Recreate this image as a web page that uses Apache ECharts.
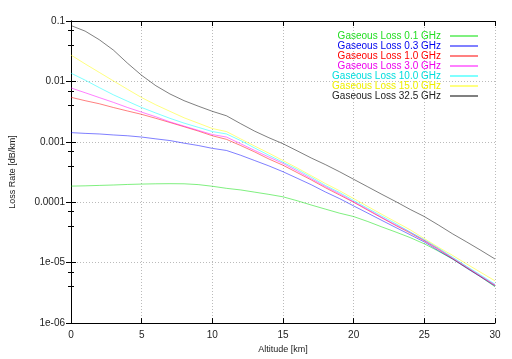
<!DOCTYPE html>
<html><head><meta charset="utf-8">
<script src="https://cdn.jsdelivr.net/npm/echarts@6/dist/echarts.min.js"></script>
<style>html,body{margin:0;padding:0;background:#fff}#c{width:512px;height:359px}</style>
</head><body><div id="c"></div>
<script>
const altitude = [0,1,2,3,4,5,6,7,8,9,10,11,12,13,14,15,16,17,18,19,20,21,22,23,24,25,26,27,28,29,30];
const seriesNames = ["Gaseous Loss 0.1 GHz","Gaseous Loss 0.3 GHz","Gaseous Loss 1.0 GHz","Gaseous Loss 3.0 GHz","Gaseous Loss 10.0 GHz","Gaseous Loss 15.0 GHz","Gaseous Loss 32.5 GHz"];
const loss01 = [1.85e-4,1.87e-4,1.9e-4,1.93e-4,1.97e-4,2.0e-4,2.02e-4,2.03e-4,2.02e-4,1.96e-4,1.84e-4,1.7e-4,1.6e-4,1.47e-4,1.35e-4,1.23e-4,1.06e-4,9.0e-5,7.7e-5,6.6e-5,5.8e-5,4.8e-5,3.9e-5,3.2e-5,2.6e-5,2.05e-5,1.55e-5,1.15e-5,8.2e-6,5.8e-6,4.0e-6];
const loss03 = [0.00142,0.00138,0.00135,0.0013,0.00126,0.0012,0.00112,0.00105,0.00095,0.00087,0.00078,0.00072,0.0006,0.00049,0.0004,0.00032,0.00025,0.000195,0.000148,0.000115,8.7e-5,6.6e-5,5.0e-5,3.8e-5,2.9e-5,2.2e-5,1.58e-5,1.15e-5,8.1e-6,5.8e-6,4.1e-6];
const loss10 = [0.00546,0.0048,0.00427,0.0037,0.00324,0.00285,0.00245,0.00209,0.00178,0.00151,0.00126,0.0011,0.00087,0.00068,0.00052,0.00041,0.00031,0.000234,0.000174,0.000132,0.0001,7.4e-5,5.5e-5,4.1e-5,3.1e-5,2.3e-5,1.66e-5,1.17e-5,8.3e-6,5.9e-6,4.2e-6];
const loss30 = [0.0078,0.0065,0.0054,0.0045,0.0037,0.0031,0.0026,0.00214,0.00182,0.00155,0.00132,0.0012,0.00093,0.00072,0.00056,0.00044,0.00033,0.000245,0.000182,0.000138,0.000102,7.6e-5,5.6e-5,4.2e-5,3.2e-5,2.35e-5,1.7e-5,1.2e-5,8.5e-6,6.0e-6,4.3e-6];
const loss100 = [0.0137,0.0105,0.0079,0.0060,0.0047,0.0037,0.0030,0.00245,0.00204,0.00174,0.00148,0.00135,0.00105,0.00079,0.0006,0.00046,0.00035,0.00026,0.00019,0.000145,0.000107,7.9e-5,5.9e-5,4.4e-5,3.2e-5,2.4e-5,1.74e-5,1.23e-5,8.7e-6,6.2e-6,4.4e-6];
const loss150 = [0.0273,0.0195,0.0141,0.0102,0.0074,0.0054,0.0041,0.0032,0.0025,0.00204,0.00166,0.00148,0.00112,0.00085,0.00065,0.00049,0.00037,0.000275,0.000204,0.000155,0.000115,8.5e-5,6.3e-5,4.7e-5,3.5e-5,2.5e-5,1.8e-5,1.32e-5,9.5e-6,6.9e-6,5.0e-6];
const loss325 = [0.084,0.068,0.049,0.033,0.020,0.0126,0.0085,0.0062,0.0048,0.0039,0.0032,0.0027,0.0020,0.0015,0.00117,0.00093,0.00071,0.00054,0.00042,0.00032,0.00024,0.00018,0.000135,0.000102,7.6e-5,5.8e-5,4.2e-5,3.0e-5,2.2e-5,1.6e-5,1.15e-5];
const yTickLabels = ["1e-06","1e-05","0.0001","0.001","0.01","0.1"];
const allSeries = [loss01,loss03,loss10,loss30,loss100,loss150,loss325];
const lineColors = ["#00e000","#0000ff","#ff0000","#ff00ff","#00ffff","#ffff00","#000000"];
const textColors = ["#22dd22","#0000ee","#ff0000","#ee00ee","#00dddd","#eeee00","#222222"];

const font = "Liberation Sans";
const chart = echarts.init(document.getElementById('c'), null, {renderer:'canvas'});
function yFmt(v){
  const e = Math.round(Math.log10(v));
  return yTickLabels[e + 6] || "";
}
const yBase = {
  type:'log', logBase:10, min:1e-6, max:0.1,
  axisLine:{show:true, lineStyle:{color:'#000', width:1}},
  axisTick:{show:true, inside:true, length:5, lineStyle:{color:'#000'}},
  minorTick:{show:true, splitNumber:3, length:3, lineStyle:{color:'#000'}},
};
const xBase = {
  type:'value', min:0, max:30, interval:5,
  axisLine:{show:true, onZero:false, lineStyle:{color:'#000', width:1}},
  axisTick:{show:true, inside:true, length:5, lineStyle:{color:'#000'}},
};
chart.setOption({
  animation:false,
  backgroundColor:'#fff',
  grid:{left:68, right:17, top:21, bottom:30, containLabel:false},
  legend:{
    orient:'vertical', right:29, top:26, align:'right',
    itemWidth:28, itemHeight:1, itemGap:0, icon:'rect',
    textStyle:{fontFamily:font, fontSize:10, lineHeight:9.8, padding:[0,4,0,0]},
    data: seriesNames.map((n,i)=>({name:n, textStyle:{color:textColors[i]}}))
  },
  xAxis:[
    Object.assign({}, xBase, {position:'bottom', name:'Altitude [km]', nameLocation:'middle', nameGap:17,
      nameTextStyle:{fontFamily:font, fontSize:9, color:'#222'},
      axisLabel:{fontFamily:font, fontSize:10, color:'#222', margin:7},
      splitLine:{show:true, lineStyle:{color:'#bbb', type:[1,2], width:1}}}),
    Object.assign({}, xBase, {position:'top', axisLabel:{show:false}, splitLine:{show:false}})
  ],
  yAxis:[
    Object.assign({}, yBase, {position:'left', name:'Loss Rate [dB/km]', nameLocation:'middle', nameGap:54,
      nameTextStyle:{fontFamily:font, fontSize:9, color:'#222'},
      axisLabel:{fontFamily:font, fontSize:10, color:'#222', margin:6, formatter:yFmt},
      splitLine:{show:true, lineStyle:{color:'#bbb', type:[1,2], width:1}}}),
    Object.assign({}, yBase, {position:'right', axisLabel:{show:false}, splitLine:{show:false}})
  ],
  series: allSeries.map((arr,i)=>({
    name: seriesNames[i], type:'line', xAxisIndex:0, yAxisIndex:0,
    showSymbol:false, symbol:'none', smooth:false,
    data: arr.map((v,j)=>[altitude[j], v]),
    color: lineColors[i],
    lineStyle:{width:1, color:lineColors[i], opacity:0.5}
  }))
});
</script></body></html>
